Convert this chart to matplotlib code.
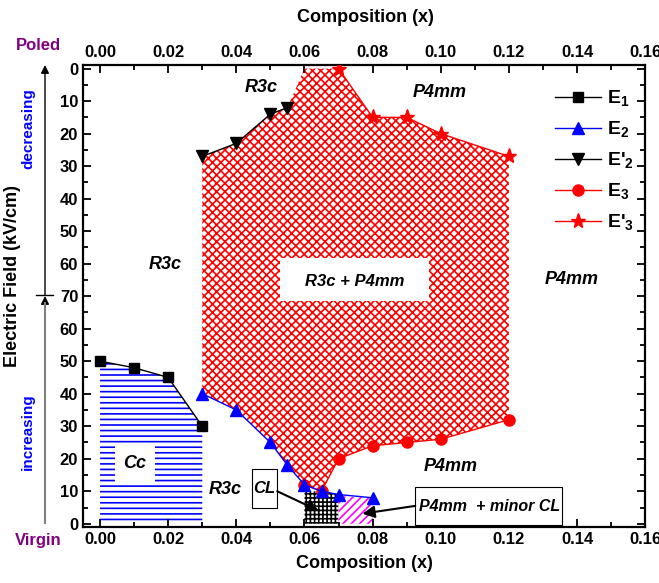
import matplotlib
matplotlib.use('Agg')
import matplotlib.pyplot as plt
from matplotlib.patches import Rectangle
from matplotlib.lines import Line2D
import numpy as np

plt.rcParams['font.family'] = ['Liberation Sans', 'DejaVu Sans']
plt.rcParams['font.weight'] = 'bold'
plt.rcParams['axes.labelweight'] = 'bold'
plt.rcParams['hatch.linewidth'] = 1.2

# ---------------- data ----------------
x_E1 = [0.00, 0.01, 0.02, 0.03]
E1 = [50, 48, 45, 30]
x_E2 = [0.03, 0.04, 0.05, 0.055, 0.06, 0.065, 0.07, 0.08]
E2 = [40, 35, 25, 18, 12, 10, 9, 8]
x_E2p = [0.03, 0.04, 0.05, 0.055]
E2p = [27, 23, 14, 12]
x_E3 = [0.06, 0.065, 0.07, 0.08, 0.09, 0.10, 0.12]
E3 = [12, 10, 20, 24, 25, 26, 32]
x_E3p = [0.07, 0.08, 0.09, 0.10, 0.12]
E3p = [0, 15, 15, 20, 27]
x_peak = [0.06]          # extra vertex of mixed-phase region at full poling
E_peak = [0]
x_CL = [0.06, 0.065, 0.07]
CL_top = [10, 10, 9]
x_minor = [0.07, 0.08]
minor_top = [8.5, 8]
E_MAX = 70
x_ticks = [0.00, 0.02, 0.04, 0.06, 0.08, 0.10, 0.12, 0.14, 0.16]


def dec(v):
    return 2 * E_MAX - np.asarray(v, dtype=float)


fig = plt.figure(figsize=(6.59, 5.83), dpi=100)
ax = fig.add_axes([0.126, 0.096, 0.853, 0.7925])

# ---------------- regions ----------------
top_x = x_E2p + x_peak + x_E3p
top_y = list(dec(E2p + E_peak + E3p))
bot_x = list(x_E3[::-1]) + list(x_E2[:4][::-1])
bot_y = list(E3[::-1]) + list(E2[:4][::-1])
ax.fill(top_x + bot_x, top_y + bot_y, facecolor='white', edgecolor='red',
        hatch='xxxx', linewidth=0, zorder=1)

ax.fill_between(x_E1, 0, E1, facecolor='white', edgecolor='blue', hatch='---',
                linewidth=0, zorder=1)
ax.fill_between(x_CL, 0, CL_top, facecolor='white', edgecolor='black', hatch='++++',
                linewidth=0, zorder=1)
ax.fill_between(x_minor, 0, minor_top, facecolor='white', edgecolor='magenta', hatch='////',
                linewidth=0, zorder=1)

# ---------------- series ----------------
h1, = ax.plot(x_E1, E1, '-s', color='black', ms=7, lw=1, zorder=4, clip_on=False)
h2, = ax.plot(x_E2, E2, '-^', color='blue', ms=8, lw=1, zorder=4)
h3, = ax.plot(x_E2p, dec(E2p), '-v', color='black', ms=8, lw=1, zorder=4)
h4, = ax.plot(x_E3, E3, '-o', color='red', ms=8, lw=1, zorder=3)
h5, = ax.plot(x_E3p, dec(E3p), '-*', color='red', ms=11, lw=1, zorder=3)

leg = ax.legend([h1, h2, h3, h4, h5],
                [r'E$_\mathregular{1}$', r'E$_\mathregular{2}$', r"E'$_\mathregular{2}$",
                 r'E$_\mathregular{3}$', r"E'$_\mathregular{3}$"],
                loc='upper left', bbox_to_anchor=(0.825, 0.966), frameon=False,
                fontsize=14, handlelength=2.4, labelspacing=0.55, handletextpad=0.3,
                borderaxespad=0)
leg.set_zorder(6)

# ---------------- label boxes ----------------
ax.add_patch(Rectangle((0.0527, 68.6), 0.0439, 13.2, facecolor='white', edgecolor='none', zorder=2))
ax.text(0.0747, 74.4, 'R3c + P4mm', style='italic', fontsize=12, ha='center', va='center', zorder=5)
ax.add_patch(Rectangle((0.0044, 12.9), 0.0117, 12.0, facecolor='white', edgecolor='none', zorder=2))
ax.text(0.0102, 18.6, 'Cc', style='italic', fontsize=13, ha='center', va='center', zorder=5)

ax.add_patch(Rectangle((0.0445, 4.9), 0.0073, 12.0, facecolor='white', edgecolor='black',
                       lw=0.8, zorder=5))
ax.text(0.0481, 10.9, 'CL', style='italic', fontsize=12, ha='center', va='center', zorder=6)
ax.annotate('', xy=(0.0642, 4.0), xytext=(0.0520, 10.0),
            arrowprops=dict(arrowstyle='-|>', color='black', lw=1.5, mutation_scale=18,
                            shrinkA=0, shrinkB=0), zorder=6)

ax.add_patch(Rectangle((0.0925, -0.3), 0.0431, 11.7, facecolor='white', edgecolor='black',
                       lw=0.8, zorder=5, clip_on=False))
ax.text(0.1142, 5.3, 'P4mm  + minor CL', style='italic', fontsize=11.5, ha='center', va='center', zorder=6)
ax.annotate('', xy=(0.0770, 3.1), xytext=(0.0925, 5.5),
            arrowprops=dict(arrowstyle='-|>', color='black', lw=1.5, mutation_scale=18,
                            shrinkA=0, shrinkB=0), zorder=6)

for tx, ty, s in [(0.0474, 134.1, 'R3c'), (0.0996, 132.5, 'P4mm'), (0.019, 79.6, 'R3c'),
                  (0.1385, 75.0, 'P4mm'), (0.103, 17.5, 'P4mm'), (0.0366, 10.5, 'R3c')]:
    ax.text(tx, ty, s, style='italic', fontsize=13, ha='center', va='center', zorder=5)

# ---------------- axes ----------------
ax.set_xlim(-0.005, 0.16)
ax.set_ylim(-1, 141.1)
ax.set_xticks(x_ticks)
ax.set_xticklabels([f'{v:.2f}' for v in x_ticks])
ax.set_xticks(np.arange(-0.0, 0.161, 0.01), minor=True)
yt = np.arange(0, 141, 10)
ax.set_yticks(yt)
ax.set_yticklabels([str(int(v)) if v <= E_MAX else str(int(2 * E_MAX - v)) for v in yt])
ax.set_yticks(np.arange(0, 141, 5), minor=True)
ax.tick_params(which='both', direction='in', top=True, right=True, labeltop=True,
               labelsize=12, width=1.3)
ax.tick_params(which='major', length=6)
ax.tick_params(which='minor', length=3.5)
for sp in ax.spines.values():
    sp.set_linewidth(1.6)

ax.set_xlabel('Composition (x)', fontsize=13, fontweight='bold', labelpad=6)
fig.text(0.554, 1 - 17 / 583, 'Composition (x)', fontsize=13, ha='center', va='center')
fig.text(13 / 659, 1 - 276 / 583, 'Electric Field (kV/cm)', fontsize=13, rotation=90,
         ha='center', va='center')
fig.text(28 / 659, 1 - 129 / 583, 'decreasing', fontsize=11, color='blue', rotation=90,
         ha='center', va='center')
fig.text(28 / 659, 1 - 432 / 583, 'increasing', fontsize=11, color='blue', rotation=90,
         ha='center', va='center')
fig.text(38 / 659, 1 - 45 / 583, 'Poled', fontsize=12, color='#800080', ha='center', va='center')
fig.text(38 / 659, 1 - 540 / 583, 'Virgin', fontsize=12, color='#800080', ha='center', va='center')

# field direction arrows at the left
fig.add_artist(Line2D([45 / 659, 45 / 659], [60 / 583, 280 / 583], color='gray', lw=1.5))
ax.annotate('', xy=(45, 287), xytext=(45, 270), xycoords='figure pixels',
            arrowprops=dict(arrowstyle='-|>', color='black', lw=1, mutation_scale=12,
                            shrinkA=0, shrinkB=0), annotation_clip=False)
fig.add_artist(Line2D([36 / 659, 53 / 659], [288 / 583, 288 / 583], color='black', lw=1))
ax.annotate('', xy=(45, 518), xytext=(45, 288), xycoords='figure pixels',
            arrowprops=dict(arrowstyle='-|>', color='black', lw=1, mutation_scale=12,
                            shrinkA=0, shrinkB=0), annotation_clip=False)

fig.savefig('out.png', dpi=100)
